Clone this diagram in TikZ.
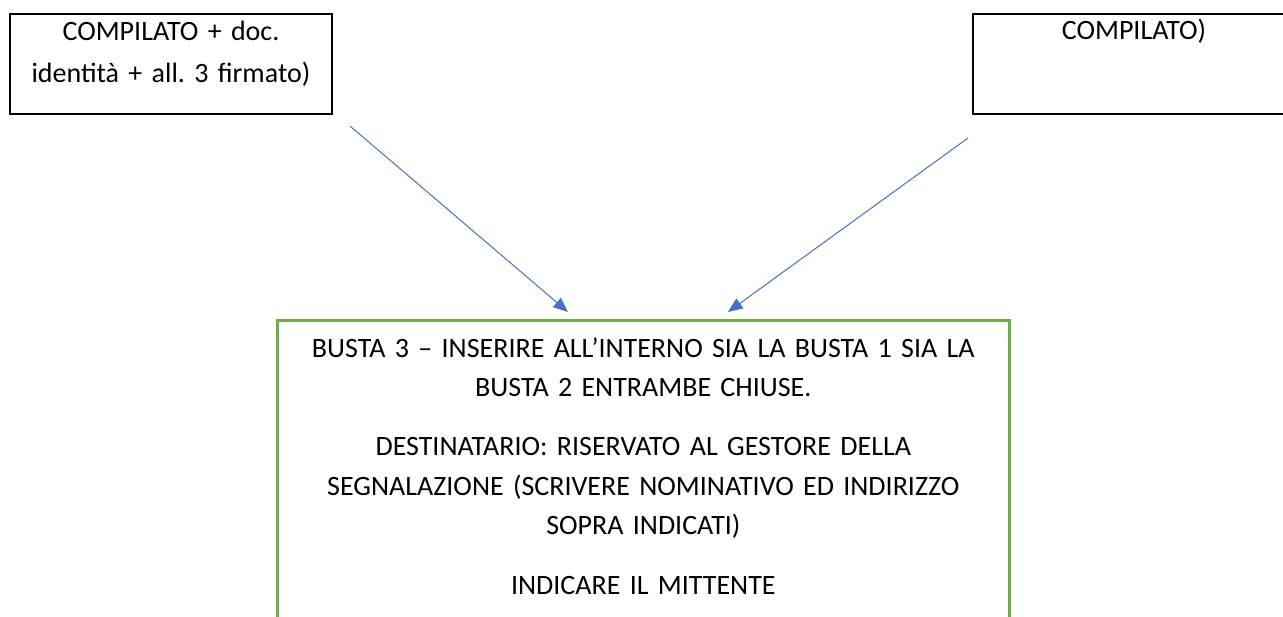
\documentclass[tikz,border=0pt]{standalone}
\usepackage{fontspec}
\setmainfont{Carlito}
\frenchspacing
\usetikzlibrary{positioning, arrows.meta}

\definecolor{arrowblue}{HTML}{4472C4}
\definecolor{boxgreen}{HTML}{70AD47}

\tikzset{
    sidebox/.style={draw=black, line width=1.5pt, rectangle, inner sep=0pt,
        minimum width=241.5pt, minimum height=75pt},
    greenbox/.style={draw=boxgreen, line width=2pt, rectangle, inner sep=0pt,
        minimum width=549pt, minimum height=300pt},
    boxtext/.style={inner sep=0pt, text width=240pt, align=center,
        font=\fontsize{21pt}{31.5pt}\selectfont},
    greentext/.style={inner sep=0pt, text width=540pt, align=center,
        font=\fontsize{21pt}{29.6pt}\selectfont},
    arrowline/.style={draw=arrowblue, line width=0.75pt,
        -{Triangle[length=11pt, width=9pt]}}
}

\begin{document}
\begin{tikzpicture}[x=0.75pt, y=-0.75pt]
        \clip (0,0) rectangle (1283,617);
        \fill[white] (0,0) rectangle (1283,617);

        % the two envelopes on top
        \node[sidebox, anchor=north west] (busta1) at (9,13) {};
        \node[boxtext, anchor=base] (busta1txt) at (busta1.north |- 0,40.7)
            {COMPILATO + doc.\\identità + all. 3 firmato)};

        \node[sidebox, anchor=north west] (busta2) at (972,13) {};
        \node[boxtext, anchor=base] (busta2txt) at (busta2.north |- 0,40)
            {COMPILATO)};

        % the outer envelope
        \node[greenbox, anchor=north west] (busta3) at (276,319) {};
        \node[greentext, anchor=base] (busta3txt) at (busta3.north |- 0,357)
            {BUSTA 3 – INSERIRE ALL’INTERNO SIA LA BUSTA 1 SIA LA\\
             BUSTA 2 ENTRAMBE CHIUSE.\\[15pt]
             DESTINATARIO: RISERVATO AL GESTORE DELLA\\
             SEGNALAZIONE (SCRIVERE NOMINATIVO ED INDIRIZZO\\
             SOPRA INDICATI)\\[15pt]
             INDICARE IL MITTENTE};

        % arrows
        \coordinate (from1) at (350,126);
        \coordinate (to1) at (568,312);
        \coordinate (from2) at (968,138);
        \coordinate (to2) at (728,312);
        \draw[arrowline] (from1) -- (to1);
        \draw[arrowline] (from2) -- (to2);
    \end{tikzpicture}
\end{document}
